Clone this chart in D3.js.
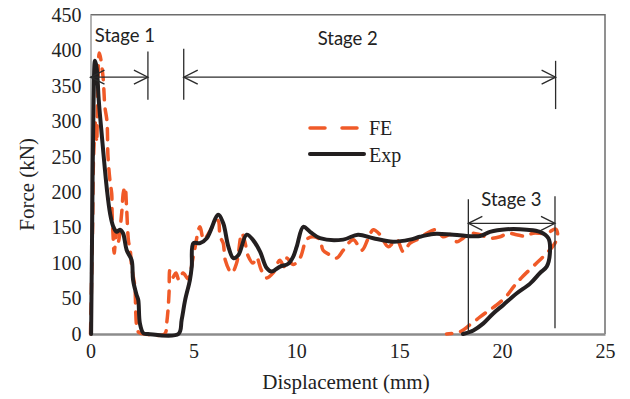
<!DOCTYPE html>
<html>
<head>
<meta charset="utf-8">
<script src="https://cdn.jsdelivr.net/npm/d3@7/dist/d3.min.js"></script>
<style>
  html, body { margin: 0; padding: 0; background: #fff; }
  svg { display: block; }
</style>
</head>
<body>
<svg id="chart" width="630" height="399"></svg>
<script>
// Force–displacement response: finite element model vs. experiment
const xTicks = [0, 5, 10, 15, 20, 25];
const yTicks = [0, 50, 100, 150, 200, 250, 300, 350, 400, 450];

const expDisp = [0.03, 0.08, 0.15, 0.22, 0.3, 0.4, 0.54, 0.8, 0.95, 1.1, 1.27, 1.43, 1.58, 1.76, 2.0, 2.07, 2.24, 2.32, 2.4, 2.57, 2.8, 4.27, 4.43, 4.6, 4.83, 4.92, 5.0, 5.32, 5.65, 6.21, 6.45, 6.7, 6.94, 7.18, 7.59, 7.91, 8.24, 8.56, 8.8, 9.21, 9.61, 9.85, 10.02, 10.34, 10.67, 11.15, 12.28, 13.0, 13.74, 14.7, 15.52, 16.0, 16.66, 17.63, 18.93, 19.41, 20.22, 21.2, 21.84, 22.25, 22.33, 22.17, 21.84, 21.36, 20.7, 20.06, 19.57, 19.09, 18.6, 18.1];
const expForce = [0, 150, 330, 385, 375, 330, 283, 203, 170, 152, 144, 147, 142, 118, 104, 76, 55, 48, 15, 1, 0, 0, 20, 48, 76, 95, 128, 128, 135, 168, 156, 123, 107, 111, 140, 132, 116, 93, 88, 95, 99, 109, 123, 151, 144, 135, 133, 140, 135, 130, 133, 137, 141, 140, 138, 144, 147.6, 147, 144, 135, 118, 95, 86, 71, 57, 41, 29, 15, 5, 0];

const feDisp = [0, 0.1, 0.15, 0.25, 0.3, 0.35, 0.43, 0.6, 0.7, 0.8, 0.85, 0.95, 1.03, 1.05, 1.1, 1.15, 1.27, 1.35, 1.52, 1.6, 1.68, 1.75, 1.85, 1.92, 2.0, 2.16, 2.18, 2.2, 2.25, 2.35, 2.6, 3.6, 3.7, 3.77, 3.82, 3.86, 4.0, 4.15, 4.3, 4.5, 4.74, 5.0, 5.32, 5.5, 5.8, 6.0, 6.2, 6.3, 6.45, 6.55, 6.86, 7.1, 7.35, 7.5, 7.66, 7.9, 8.07, 8.3, 8.56, 8.87, 9.2, 9.4, 9.53, 9.85, 10.18, 10.5, 10.8, 11.15, 11.3, 11.6, 11.96, 12.28, 12.77, 13.18, 13.5, 13.74, 14.07, 14.47, 14.88, 15.2, 15.53, 16.0, 16.34, 16.82, 17.13, 17.5, 17.8, 18.1, 18.4, 18.93, 19.4, 19.9, 20.3, 20.7, 21.1, 21.5, 22.17, 22.6, 22.7, 22.5, 22.0, 21.68, 21.0, 20.6, 20.2, 19.74, 19.3, 18.93, 18.44, 17.95, 17.3];
const feForce = [0, 150, 250, 300, 270, 340, 396, 365, 320, 300, 250, 215, 198, 170, 137, 114, 146, 130, 172, 200, 207, 180, 130, 121, 95, 66, 52, 30, 10, 2, 0, 0, 15, 35, 60, 90, 80, 86, 76, 86, 78, 110, 151, 133, 145, 155, 160, 137, 128, 104, 86, 100, 142, 130, 110, 100, 108, 90, 79, 86, 104, 95, 107, 98, 107, 133, 137, 133, 118, 112, 107, 118, 133, 118, 135, 147, 140, 123, 133, 116, 128, 135, 142, 147, 137, 140, 130, 135, 142, 140, 135, 137, 142, 140, 138, 142, 142, 148, 138, 125, 109, 100, 81, 68, 53, 41, 32, 24, 13, 3, 0];

// Loading stages: span in mm and the force level of the dimension arrow (kN)
const stageNames = ["Stage 1", "Stage 2", "Stage 3"];
const stageStart = [0, 4.53, 18.36];
const stageEnd = [2.79, 22.6, 22.57];
const stageLevel = [362, 362, 156];

const seriesNames = ["FE", "Exp"];

const width = 630, height = 399;
const margin = { top: 14.7, right: 25, bottom: 65, left: 90.5 };
const plotW = width - margin.left - margin.right;
const plotH = height - margin.top - margin.bottom;

const svg = d3.select("#chart");
const g = svg.append("g").attr("transform", `translate(${margin.left},${margin.top})`);

const x = d3.scaleLinear().domain([0, 25]).range([0, plotW]);
const y = d3.scaleLinear().domain([0, 450]).range([plotH, 0]);

const serif = "'Liberation Serif', 'Times New Roman', serif";
const sans = "Lato, 'Open Sans', 'Noto Sans', sans-serif";

// Frame (top and right edges)
g.append("path")
  .attr("d", `M0,0H${plotW}V${plotH}`)
  .attr("fill", "none")
  .attr("stroke", "#6d6d6d")
  .attr("stroke-width", 1.5);

// Axes
const xAxis = d3.axisBottom(x).tickValues(xTicks).tickSize(0).tickPadding(10);
const yAxis = d3.axisLeft(y).tickValues(yTicks).tickSize(0).tickPadding(9);

const gx = g.append("g").attr("transform", `translate(0,${plotH})`).call(xAxis);
gx.select(".domain").attr("stroke", "#8c8c8c").attr("stroke-width", 2.5);
gx.selectAll("text").attr("font-family", serif).attr("font-size", 20).attr("fill", "#222");

const gy = g.append("g").call(yAxis);
gy.select(".domain").attr("stroke", "#9a9a9a").attr("stroke-width", 1.5);
gy.selectAll("text").attr("font-family", serif).attr("font-size", 20).attr("fill", "#222");

// Axis titles
svg.append("text")
  .attr("x", 346).attr("y", 389)
  .attr("text-anchor", "middle")
  .attr("font-family", serif).attr("font-size", 21).attr("fill", "#222")
  .text("Displacement (mm)");

svg.append("text")
  .attr("transform", `translate(34,${margin.top + plotH / 2 + 10}) rotate(-90)`)
  .attr("text-anchor", "middle")
  .attr("font-family", serif).attr("font-size", 21).attr("fill", "#222")
  .text("Force (kN)");

// Curves
const feData = feDisp.map((d, i) => [d, feForce[i]]);
const expData = expDisp.map((d, i) => [d, expForce[i]]);

const line = d3.line()
  .x(d => x(d[0]))
  .y(d => y(d[1]))
  .curve(d3.curveCatmullRom.alpha(0.5));

const feColor = "#f05a28";
const expColor = "#231f20";

g.append("path")
  .datum(feData)
  .attr("d", line)
  .attr("fill", "none")
  .attr("stroke", feColor)
  .attr("stroke-width", 3.5)
  .attr("stroke-linecap", "round")
  .attr("stroke-dasharray", "11,9");

g.append("path")
  .datum(expData)
  .attr("d", line)
  .attr("fill", "none")
  .attr("stroke", expColor)
  .attr("stroke-width", 4)
  .attr("stroke-linejoin", "round")
  .attr("stroke-linecap", "round");

// Stage dimension arrows
const annColor = "#2b2b2b";
const ann = g.append("g").attr("stroke", annColor).attr("stroke-width", 1.3).attr("fill", "none");

function arrowHead(xTip, yv, dir) {
  const len = 14, half = 7;
  ann.append("path")
    .attr("d", `M${xTip - dir * len},${yv - half}L${xTip},${yv}L${xTip - dir * len},${yv + half}`);
}

// vertical extension lines, in kN [top, bottom] for each end of each stage
const extLeft = [null, [402, 330], [190, 2]];
const extRight = [[398, 330], [385, 317], [194, 8]];

stageNames.forEach((name, i) => {
  const x0 = x(stageStart[i]), x1 = x(stageEnd[i]), yv = y(stageLevel[i]);
  ann.append("line").attr("x1", x0).attr("x2", x1).attr("y1", yv).attr("y2", yv);
  arrowHead(x0, yv, -1);
  arrowHead(x1, yv, 1);
  if (extLeft[i]) {
    ann.append("line").attr("x1", x0).attr("x2", x0)
      .attr("y1", y(extLeft[i][0])).attr("y2", y(extLeft[i][1]));
  }
  ann.append("line").attr("x1", x1).attr("x2", x1)
    .attr("y1", y(extRight[i][0])).attr("y2", y(extRight[i][1]));
});

// Stage labels
const labelX = [1.67, 12.5, 20.45];
const labelF = [412, 407, 180];
stageNames.forEach((name, i) => {
  g.append("text")
    .attr("x", x(labelX[i])).attr("y", y(labelF[i]))
    .attr("text-anchor", "middle")
    .attr("font-family", sans).attr("font-size", 18.5).attr("fill", "#222")
    .text(name);
});

// Legend
const legend = svg.append("g").attr("transform", "translate(310,128)");
legend.append("line")
  .attr("x1", 0).attr("x2", 50).attr("y1", 0).attr("y2", 0)
  .attr("stroke", feColor).attr("stroke-width", 3.5)
  .attr("stroke-linecap", "round").attr("stroke-dasharray", "15,17");
legend.append("line")
  .attr("x1", 0).attr("x2", 54).attr("y1", 26).attr("y2", 26)
  .attr("stroke", expColor).attr("stroke-width", 4).attr("stroke-linecap", "round");
seriesNames.forEach((name, i) => {
  legend.append("text")
    .attr("x", 59).attr("y", 7 + i * 27)
    .attr("font-family", serif).attr("font-size", 20).attr("fill", "#222")
    .text(name);
});
</script>
</body>
</html>
